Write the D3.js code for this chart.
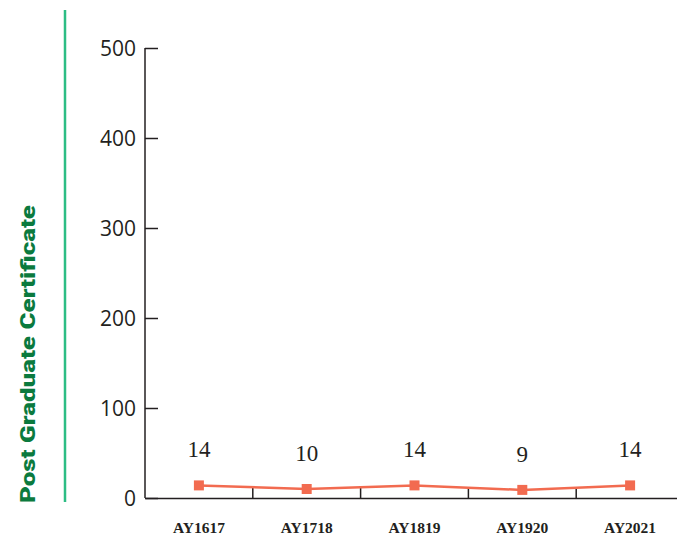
<!DOCTYPE html>
<html><head><meta charset="utf-8">
<script src="https://cdn.jsdelivr.net/npm/d3@7"></script>
<style>body{margin:0;background:#fff}svg{display:block}</style>
</head><body>
<script>
const categories = ["AY1617","AY1718","AY1819","AY1920","AY2021"];
const values = [14,10,14,9,14];
const yTicks = [0,100,200,300,400,500];
const title = "Post Graduate Certificate";

const W=677,H=537;
const svg=d3.select("body").append("svg").attr("width",W).attr("height",H);
const x=d3.scaleBand().domain(categories).range([145,684]);
const y=d3.scaleLinear().domain([0,500]).range([498,48]);

// green rule
svg.append("line").attr("x1",65).attr("x2",65).attr("y1",10).attr("y2",502)
  .attr("stroke","#2dbd84").attr("stroke-width",2.5);
// title
svg.append("text").attr("transform","translate(35,"+((205+503)/2)+") rotate(-90)")
  .attr("text-anchor","middle").attr("font-family","Roboto, DejaVu Sans").attr("font-weight",900)
  .attr("font-size",20).attr("fill","#0b7a3e").attr("textLength",298).attr("lengthAdjust","spacingAndGlyphs")
  .text(title);

// y axis
const ya=svg.append("g").attr("transform","translate(145,0)")
  .call(d3.axisRight(y).tickValues(yTicks).tickSize(13).tickFormat(d3.format("d")));
ya.select(".domain").attr("stroke","#231f20").attr("stroke-width",1.5).attr("d","M0,"+y(500)+"V"+y(0));
ya.selectAll(".tick line").attr("stroke","#231f20").attr("stroke-width",1.5);
ya.selectAll(".tick text").attr("x",-9).attr("text-anchor","end").attr("font-family","Open Sans")
  .attr("font-size",21).attr("fill","#231f20").attr("dy","0.36em");

// x axis
const xa=svg.append("g").attr("transform","translate(0,498)")
  .call(d3.axisBottom(x).tickSize(0).tickPadding(24));
xa.select(".domain").attr("stroke","#231f20").attr("stroke-width",1.5);
xa.selectAll(".tick text").attr("font-family","Liberation Serif").attr("font-size",15.5)
  .attr("fill","#231f20").attr("font-weight","bold").attr("dy","0.71em");
// band separators
const bounds=categories.slice(1).map(c=>x(c));
svg.append("g").selectAll("line").data(bounds).join("line")
  .attr("x1",d=>d).attr("x2",d=>d).attr("y1",y(0)).attr("y2",y(0)-10)
  .attr("stroke","#231f20").attr("stroke-width",1.5);

// line
const cx=d=>x(d)+x.bandwidth()/2;
const data=categories.map((c,i)=>({c,v:values[i]}));
svg.append("path").datum(data).attr("fill","none").attr("stroke","#f26b50").attr("stroke-width",2.5)
  .attr("d",d3.line().x(d=>cx(d.c)).y(d=>y(d.v)));
svg.append("g").selectAll("rect").data(data).join("rect")
  .attr("x",d=>cx(d.c)-5).attr("y",d=>y(d.v)-5).attr("width",10).attr("height",10).attr("fill","#f26b50");
svg.append("g").selectAll("text").data(data).join("text")
  .attr("x",d=>cx(d.c)).attr("y",d=>y(d.v)-28).attr("text-anchor","middle")
  .attr("font-family","Liberation Serif").attr("font-size",23).attr("fill","#231f20")
  .text(d=>d.v);
</script>
</body></html>
